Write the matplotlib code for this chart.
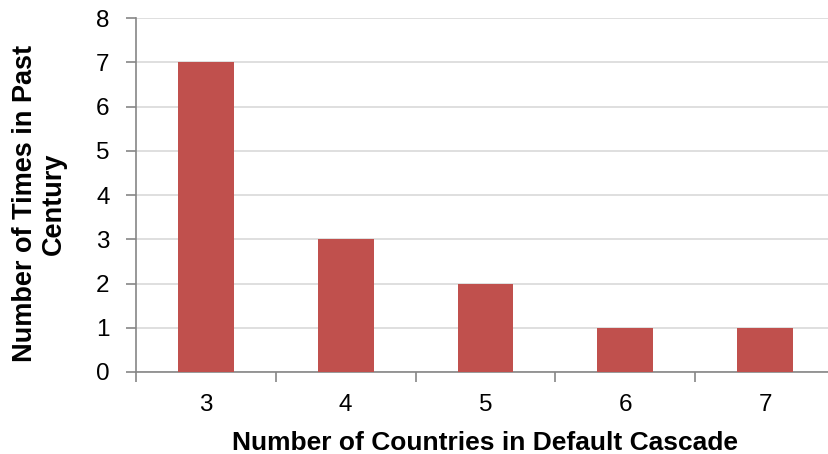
import matplotlib
matplotlib.use("Agg")
import matplotlib.pyplot as plt
import numpy as np

categories = ["3", "4", "5", "6", "7"]
counts = [7, 3, 2, 1, 1]
y_ticks = [0, 1, 2, 3, 4, 5, 6, 7, 8]

plt.rcParams["font.family"] = ["Liberation Sans", "DejaVu Sans"]

W, H = 829, 454
fig = plt.figure(figsize=(W / 100, H / 100), dpi=100)
left, right, bottom, top = 136, 835, 372, 18
ax = fig.add_axes([left / W, (H - bottom) / H, (right - left) / W, (bottom - top) / H])

x = np.arange(len(categories))
ax.bar(x, counts, width=0.4, color="#C0504D", zorder=3)

ax.set_xlim(-0.5, len(categories) - 0.5)
ax.set_ylim(0, 8)
ax.set_yticks(y_ticks)
ax.yaxis.grid(True, color="#D9D9D9", linewidth=1.2, zorder=0)

# category labels sit between the boundary ticks
ax.set_xticks(x)
ax.set_xticklabels(categories)
ax.tick_params(axis="x", length=0, pad=16, labelsize=17.5)
ax.set_xticks(np.arange(len(categories) + 1) - 0.5, minor=True)
ax.tick_params(axis="x", which="minor", length=7, width=1.2, color="#868686", direction="out")
ax.tick_params(axis="y", length=7, width=1.2, color="#868686", direction="out", pad=12, labelsize=17.5)

for s in ["top", "right"]:
    ax.spines[s].set_visible(False)
for s in ["left", "bottom"]:
    ax.spines[s].set_color("#868686")
    ax.spines[s].set_linewidth(1.2)

ax.set_xlabel("Number of Countries in Default Cascade", fontsize=19, fontweight="bold", labelpad=11)
ax.set_ylabel("Number of Times in Past\nCentury", fontsize=19.5, fontweight="bold",
              linespacing=1.15)
ax.yaxis.set_label_coords(-0.099, 0.475)

fig.savefig("out.png", dpi=100)
